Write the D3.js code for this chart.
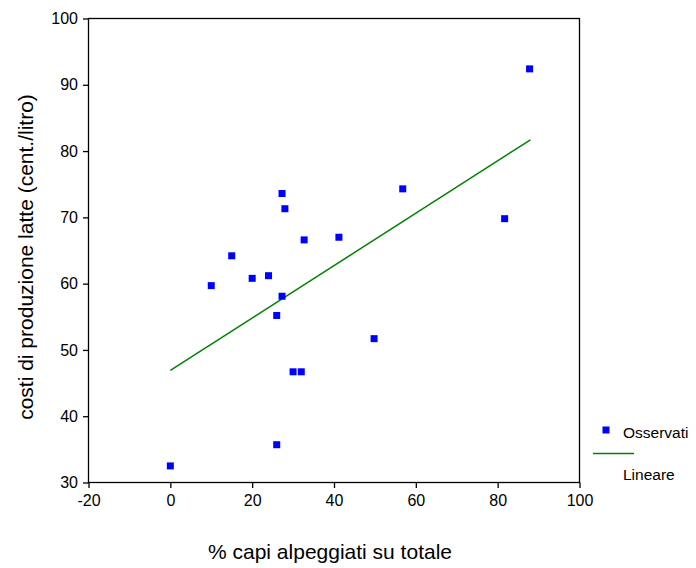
<!DOCTYPE html>
<html>
<head>
<meta charset="utf-8">
<script src="https://d3js.org/d3.v7.min.js"></script>
<style>
body { margin: 0; background: #fff; }
text { font-family: "Liberation Sans", Arial, sans-serif; }
</style>
</head>
<body>
<div id="chart"></div>
<script>
// observed points (% capi alpeggiati, costi cent./litro)
var pctCapi = [0, 10, 15, 20, 24, 26, 27.3, 28, 27.3, 26, 30, 32, 32.7, 41.2, 49.8, 56.8, 81.7, 87.8];
var costi   = [32.5, 59.7, 64.2, 60.8, 61.2, 55.2, 73.6, 71.3, 58.1, 35.7, 46.7, 46.7, 66.6, 67, 51.7, 74.3, 69.8, 92.4];
// linear fit, read at its two ends
var lineX = [0, 88];
var lineY = [46.9, 81.7];
var xTicks = [-20, 0, 20, 40, 60, 80, 100];
var yTicks = [30, 40, 50, 60, 70, 80, 90, 100];

var svg = d3.select("#chart").append("svg")
	.attr("width", 696)
	.attr("height", 568);

var x = d3.scaleLinear().domain([-20, 100]).range([88.5, 579.5]);
var y = d3.scaleLinear().domain([30, 100]).range([482.5, 18.5]);

// frame
svg.append("rect")
	.attr("x", x(-20)).attr("y", y(100))
	.attr("width", x(100) - x(-20)).attr("height", y(30) - y(100))
	.style("fill", "none").style("stroke", "#000").style("stroke-width", 1.3);

var fmt = function(d) { return String(d); }; // plain hyphen for -20
var xAxis = svg.append("g")
	.attr("transform", "translate(0," + y(30) + ")")
	.call(d3.axisBottom(x).tickValues(xTicks).tickFormat(fmt).tickSize(5.5).tickPadding(7));
var yAxis = svg.append("g")
	.attr("transform", "translate(" + x(-20) + ",0)")
	.call(d3.axisLeft(y).tickValues(yTicks).tickFormat(fmt).tickSize(5.5).tickPadding(5));

[xAxis, yAxis].forEach(function(g) {
	g.select(".domain").remove();
	g.selectAll("line").style("stroke", "#000").style("stroke-width", 1.3);
	g.selectAll("text").style("font-size", "16px").style("fill", "#000")
		.style("font-family", "'Liberation Sans', Arial, sans-serif");
});

// regression line
svg.append("path")
	.datum(d3.zip(lineX, lineY))
	.attr("d", d3.line().x(function(d) { return x(d[0]); }).y(function(d) { return y(d[1]); }))
	.style("fill", "none").style("stroke", "#008000").style("stroke-width", 1.5);

// points
svg.selectAll(".pt")
	.data(d3.zip(pctCapi, costi))
	.enter().append("rect")
	.attr("class", "pt")
	.attr("x", function(d) { return x(d[0]) - 3.5; })
	.attr("y", function(d) { return y(d[1]) - 3.5; })
	.attr("width", 7).attr("height", 7)
	.style("fill", "#0000ff");

// axis titles
svg.append("text")
	.attr("x", 330).attr("y", 559)
	.attr("text-anchor", "middle")
	.style("font-size", "21px")
	.text("% capi alpeggiati su totale");
svg.append("text")
	.attr("transform", "translate(33,257) rotate(-90)")
	.attr("text-anchor", "middle")
	.style("font-size", "21px")
	.text("costi di produzione latte (cent./litro)");

// legend
svg.append("rect")
	.attr("x", 602.5).attr("y", 426.5).attr("width", 7).attr("height", 7)
	.style("fill", "#0000ff");
svg.append("text")
	.attr("x", 623).attr("y", 438)
	.style("font-size", "15.5px")
	.text("Osservati");
svg.append("line")
	.attr("x1", 593).attr("x2", 634).attr("y1", 453.5).attr("y2", 453.5)
	.style("stroke", "#008000").style("stroke-width", 1.5);
svg.append("text")
	.attr("x", 623).attr("y", 480)
	.style("font-size", "15.5px")
	.text("Lineare");
</script>
</body>
</html>
